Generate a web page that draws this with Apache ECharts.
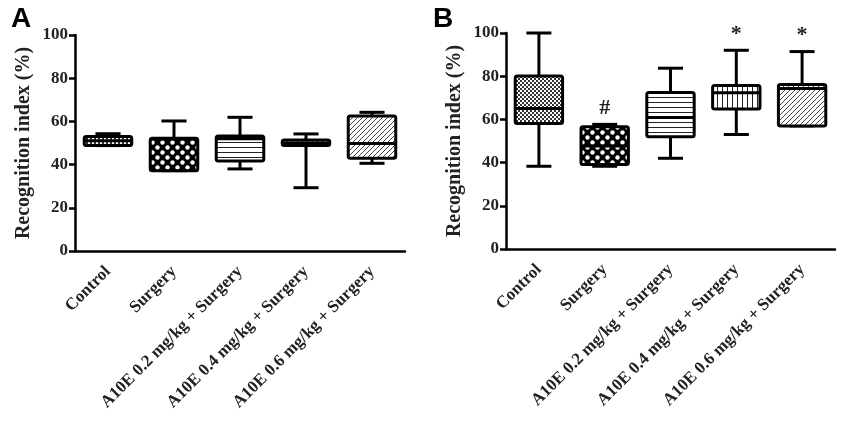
<!DOCTYPE html>
<html>
<head>
<meta charset="utf-8">
<script src="https://cdn.jsdelivr.net/npm/echarts@6/dist/echarts.min.js"></script>
<style>
  html, body { margin: 0; padding: 0; background: #fff; }
  #main { width: 850px; height: 436px; }
</style>
</head>
<body>
<div id="main"></div>
<script>
// group names on the x axis
const categories = ['Control', 'Surgery', 'A10E 0.2 mg/kg + Surgery', 'A10E 0.4 mg/kg + Surgery', 'A10E 0.6 mg/kg + Surgery'];
const yTicks = [0, 20, 40, 60, 80, 100];

// [min, q1, median, q3, max]
const statsA = [
  [48.8, 48.8, 51.0, 53.0, 54.3],
  [37.2, 37.2, 51.8, 52.2, 60.2],
  [38.0, 41.7, 52.0, 53.2, 61.9],
  [29.3, 48.8, 50.0, 51.4, 54.2],
  [40.6, 42.9, 49.8, 62.5, 64.2]
];
const statsB = [
  [38.3, 58.1, 65.0, 80.1, 100.0],
  [38.3, 39.1, 47.7, 56.6, 57.7],
  [42.0, 52.0, 60.9, 72.4, 83.7],
  [53.0, 64.8, 72.3, 75.7, 92.0],
  [57.0, 57.0, 74.3, 76.1, 91.4]
];
const marksA = ['', '', '', '', ''];
const marksB = ['', '#', '', '*', '*'];

// fill pattern per group
const patternKinds = ['fineCheck', 'check', 'hlines', 'vlines', 'diag'];

function makePattern(kind) {
  const c = document.createElement('canvas');
  const ctx = c.getContext('2d');
  if (kind === 'fineCheck') {
    c.width = 4; c.height = 4;
    ctx.fillStyle = '#fff'; ctx.fillRect(0, 0, 4, 4);
    ctx.fillStyle = '#333';
    ctx.fillRect(0, 0, 2, 2); ctx.fillRect(2, 2, 2, 2);
  } else if (kind === 'check') {
    c.width = 10; c.height = 10;
    ctx.fillStyle = '#000'; ctx.fillRect(0, 0, 10, 10);
    ctx.fillStyle = '#fff';
    ctx.beginPath(); ctx.arc(2.5, 2.5, 2.2, 0, Math.PI * 2); ctx.fill();
    ctx.beginPath(); ctx.arc(7.5, 7.5, 2.2, 0, Math.PI * 2); ctx.fill();
  } else if (kind === 'hlines') {
    c.width = 5; c.height = 5;
    ctx.fillStyle = '#fff'; ctx.fillRect(0, 0, 5, 5);
    ctx.fillStyle = '#222'; ctx.fillRect(0, 2, 5, 1);
  } else if (kind === 'vlines') {
    c.width = 5; c.height = 5;
    ctx.fillStyle = '#fff'; ctx.fillRect(0, 0, 5, 5);
    ctx.fillStyle = '#222'; ctx.fillRect(2, 0, 1, 5);
  } else {
    c.width = 5; c.height = 5;
    ctx.fillStyle = '#fff'; ctx.fillRect(0, 0, 5, 5);
    ctx.strokeStyle = '#444'; ctx.lineWidth = 1;
    ctx.beginPath();
    ctx.moveTo(-1, 6); ctx.lineTo(6, -1);
    ctx.moveTo(-1, 1); ctx.lineTo(1, -1);
    ctx.moveTo(4, 6); ctx.lineTo(6, 4);
    ctx.stroke();
  }
  return { image: c, repeat: 'repeat' };
}
const patterns = patternKinds.map(makePattern);

function boxRenderer(marks) {
  return function (params, api) {
    const i = api.value(0);
    const x = api.coord([i, 0])[0];
    const yMin = api.coord([i, api.value(1)])[1];
    const yQ1 = api.coord([i, api.value(2)])[1];
    const yMed = api.coord([i, api.value(3)])[1];
    const yQ3 = api.coord([i, api.value(4)])[1];
    const yMax = api.coord([i, api.value(5)])[1];
    const band = api.size([1, 0])[0];
    const half = band * 0.36;
    const cap = band * 0.19;
    const line = { stroke: '#000', lineWidth: 3 };
    const children = [
      { type: 'line', shape: { x1: x, y1: yMax, x2: x, y2: yQ3 }, style: line },
      { type: 'line', shape: { x1: x, y1: yQ1, x2: x, y2: yMin }, style: line },
      { type: 'line', shape: { x1: x - cap, y1: yMax, x2: x + cap, y2: yMax }, style: line },
      { type: 'line', shape: { x1: x - cap, y1: yMin, x2: x + cap, y2: yMin }, style: line },
      { type: 'rect', shape: { x: x - half, y: yQ3, width: half * 2, height: Math.max(yQ1 - yQ3, 1), r: 2 },
        style: { fill: patterns[i], stroke: '#000', lineWidth: 3 } },
      { type: 'line', shape: { x1: x - half, y1: yMed, x2: x + half, y2: yMed }, style: line }
    ];
    if (marks[i]) {
      children.push({ type: 'text', style: {
        text: marks[i], x: x, y: yMax - 5, align: 'center', verticalAlign: 'bottom',
        font: 'bold 22px "Liberation Serif"', fill: '#222'
      } });
    }
    return { type: 'group', children: children };
  };
}

const axisFont = { fontFamily: 'Liberation Serif', fontWeight: 'bold', color: '#222' };

function makeX(gridIndex) {
  return {
    type: 'category', gridIndex: gridIndex, data: categories,
    axisLine: { lineStyle: { color: '#000', width: 2.5 } },
    axisTick: { alignWithLabel: true, length: 6, lineStyle: { color: '#000', width: 2.5 } },
    axisLabel: Object.assign({ rotate: 45, fontSize: 17, margin: 18, interval: 0 }, axisFont)
  };
}
function makeY(gridIndex) {
  return {
    type: 'value', gridIndex: gridIndex, min: yTicks[0], max: yTicks[yTicks.length - 1], interval: 20,
    name: 'Recognition index (%)', nameLocation: 'middle', nameGap: 41,
    nameTextStyle: Object.assign({ fontSize: 20 }, axisFont),
    axisLine: { show: true, lineStyle: { color: '#000', width: 2.5 } },
    axisTick: { show: true, length: 6, lineStyle: { color: '#000', width: 2.5 } },
    axisLabel: Object.assign({ fontSize: 17, margin: 7 }, axisFont),
    splitLine: { show: false }
  };
}

const chart = echarts.init(document.getElementById('main'));
chart.setOption({
  backgroundColor: '#fff',
  animation: false,
  title: [
    { text: 'A', left: 6, top: 0, textStyle: { fontFamily: 'Liberation Sans', fontWeight: 'bold', fontSize: 28, color: '#000' } },
    { text: 'B', left: 428, top: 0, textStyle: { fontFamily: 'Liberation Sans', fontWeight: 'bold', fontSize: 28, color: '#000' } }
  ],
  grid: [
    { left: 75, right: 445, top: 35, bottom: 185 },
    { left: 506, right: 15, top: 33, bottom: 187 }
  ],
  xAxis: [makeX(0), makeX(1)],
  yAxis: [makeY(0), makeY(1)],
  series: [
    { type: 'custom', xAxisIndex: 0, yAxisIndex: 0, renderItem: boxRenderer(marksA),
      encode: { x: 0, y: [1, 2, 3, 4, 5] }, data: statsA.map((s, i) => [i].concat(s)) },
    { type: 'custom', xAxisIndex: 1, yAxisIndex: 1, renderItem: boxRenderer(marksB),
      encode: { x: 0, y: [1, 2, 3, 4, 5] }, data: statsB.map((s, i) => [i].concat(s)) }
  ]
});
</script>
</body>
</html>
